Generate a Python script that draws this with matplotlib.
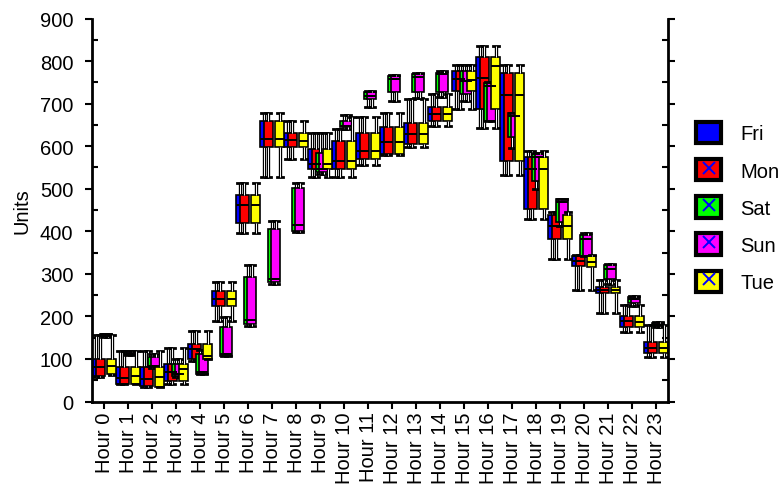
import matplotlib
matplotlib.use("Agg")
import matplotlib.pyplot as plt
from matplotlib.patches import Patch
from matplotlib.lines import Line2D
from matplotlib.ticker import MultipleLocator

plt.rcParams["font.family"] = ["Liberation Sans", "DejaVu Sans"]

hours = [f"Hour {h}" for h in range(24)]
days = ["Fri", "Mon", "Sat", "Sun", "Tue"]
colors = ["#0000ff", "#ff0000", "#00ff00", "#ff00ff", "#ffff00"]

# (low whisker, q1, median, q3, high whisker) per hour
fri = [
    (58, 60, 82, 101, 156), (40, 42, 55, 80, 119), (34, 37, 53, 80, 119),
    (42, 49, 69, 88, 126), (96, 100, 123, 135, 166), (190, 225, 242, 260, 280),
    (396, 419, 462, 486, 513), (528, 597, 617, 660, 677), (570, 597, 615, 632, 658),
    (528, 546, 558, 593, 631), (528, 546, 565, 612, 640), (556, 570, 589, 632, 669),
    (579, 582, 609, 644, 679), (597, 605, 628, 654, 711), (648, 660, 675, 693, 722),
    (687, 730, 759, 777, 791), (642, 687, 760, 810, 835), (533, 564, 720, 773, 791),
    (429, 452, 546, 575, 589), (335, 382, 413, 438, 446), (262, 318, 331, 342, 344),
    (208, 254, 262, 270, 285), (163, 174, 188, 200, 227), (105, 114, 126, 139, 180),
]
mon = [
    (58, 60, 82, 101, 156), (40, 42, 55, 80, 119), (34, 37, 53, 80, 119),
    (42, 49, 69, 88, 126), (96, 100, 123, 135, 166), (190, 225, 242, 260, 280),
    (396, 419, 462, 486, 513), (528, 597, 617, 660, 677), (570, 597, 615, 632, 658),
    (528, 546, 558, 593, 631), (528, 546, 565, 612, 640), (556, 570, 589, 632, 669),
    (579, 582, 609, 644, 679), (597, 605, 628, 654, 711), (648, 660, 675, 693, 722),
    (687, 730, 759, 777, 791), (642, 687, 760, 810, 835), (533, 564, 720, 773, 791),
    (429, 452, 546, 575, 589), (335, 382, 413, 438, 446), (262, 318, 331, 342, 344),
    (208, 254, 262, 270, 285), (163, 174, 188, 200, 227), (105, 114, 126, 139, 180),
]
sat = [
    (152, 153, 155, 158, 159), (109, 110, 112, 117, 118), (78, 80, 84, 104, 112),
    (58, 61, 65, 88, 100), (64, 65, 70, 112, 120), (106, 108, 112, 176, 198),
    (178, 182, 191, 293, 321), (277, 280, 288, 405, 425), (398, 400, 415, 501, 513),
    (535, 539, 546, 585, 631), (640, 644, 648, 660, 673), (693, 711, 718, 728, 730),
    (707, 727, 758, 765, 767), (713, 727, 762, 769, 772), (715, 727, 770, 773, 776),
    (707, 723, 754, 777, 791), (660, 660, 742, 748, 750), (595, 621, 672, 677, 679),
    (499, 519, 574, 582, 584), (413, 421, 468, 476, 476), (343, 343, 382, 392, 395),
    (276, 288, 311, 321, 322), (225, 231, 241, 246, 248), (176, 177, 180, 184, 186),
]
sun = [
    (152, 153, 155, 158, 159), (109, 110, 112, 117, 118), (78, 80, 84, 104, 112),
    (58, 61, 65, 88, 100), (64, 65, 70, 112, 120), (106, 108, 112, 176, 198),
    (178, 182, 191, 293, 321), (277, 280, 288, 405, 425), (398, 400, 415, 501, 513),
    (535, 539, 546, 585, 631), (640, 644, 648, 660, 673), (693, 711, 718, 728, 730),
    (707, 727, 758, 765, 767), (713, 727, 762, 769, 772), (715, 727, 770, 773, 776),
    (707, 723, 754, 777, 791), (660, 660, 742, 748, 750), (595, 621, 672, 677, 679),
    (499, 519, 574, 582, 584), (413, 421, 468, 476, 476), (343, 343, 382, 392, 395),
    (276, 288, 311, 321, 322), (225, 231, 241, 246, 248), (176, 177, 180, 184, 186),
]
tue = [
    (62, 64, 84, 101, 157), (41, 41, 60, 81, 118), (34, 34, 57, 81, 119),
    (41, 49, 76, 88, 126), (100, 100, 108, 135, 166), (190, 225, 242, 260, 280),
    (396, 419, 462, 486, 513), (528, 597, 617, 660, 677), (570, 597, 613, 632, 658),
    (528, 546, 558, 593, 631), (528, 546, 564, 612, 669), (556, 570, 589, 632, 669),
    (579, 582, 609, 644, 679), (597, 605, 628, 654, 711), (648, 660, 675, 693, 722),
    (687, 730, 756, 777, 791), (642, 687, 789, 809, 835), (533, 564, 720, 772, 791),
    (429, 452, 546, 575, 589), (335, 382, 413, 438, 446), (262, 317, 328, 341, 344),
    (208, 254, 262, 270, 285), (163, 174, 186, 200, 227), (105, 114, 126, 139, 180),
]
series = [fri, mon, sat, sun, tue]

offsets = [-0.33, -0.165, 0.0, 0.165, 0.33]
box_width = 0.375

fig = plt.figure(figsize=(7.83, 4.89), dpi=100)
ax = fig.add_axes([92 / 783, 1 - 402.5 / 489, 576 / 783, 383 / 489])

for data, color, off in zip(series, colors, offsets):
    stats = []
    for lo, q1, med, q3, hi in data:
        stats.append({"whislo": lo, "q1": q1, "med": med, "q3": q3, "whishi": hi})
    pos = [h + off for h in range(len(hours))]
    res = ax.bxp(
        stats,
        positions=pos,
        widths=box_width,
        capwidths=0.28,
        showfliers=False,
        patch_artist=True,
        boxprops=dict(facecolor=color, edgecolor="black", linewidth=1.2),
        whiskerprops=dict(color="black", linewidth=2.4, solid_capstyle="butt"),
        capprops=dict(color="black", linewidth=2.0),
        medianprops=dict(color="black", linewidth=1.4),
        manage_ticks=False,
    )
    # hollow look of the whisker stems
    for w in res["whiskers"]:
        xs, ys = w.get_data()
        ax.plot(xs, ys, color="white", linewidth=0.7, solid_capstyle="butt")

ax.set_xlim(-0.5, 23.5)
ax.set_ylim(0, 900)
ax.set_xticks(range(len(hours)))
ax.set_xticklabels(hours, rotation=90, fontsize=14.5)
ax.yaxis.set_major_locator(MultipleLocator(100))
ax.yaxis.set_minor_locator(MultipleLocator(50))
ax.tick_params(axis="y", which="major", direction="out", length=5, width=1.5,
               labelsize=14.5, pad=8.5, right=True)
ax.tick_params(axis="y", which="minor", direction="in", length=4, width=1.5, right=True)
ax.tick_params(axis="x", which="major", direction="out", length=5, width=1.5, pad=2)
ax.spines["top"].set_visible(False)
for s in ["left", "right", "bottom"]:
    ax.spines[s].set_linewidth(2.0)
ax.set_ylabel("Units", fontsize=14.5, labelpad=6)

handles = []
for i, color in enumerate(colors):
    patch = Patch(facecolor=color, edgecolor="black", linewidth=3)
    if i == 0:
        handles.append(patch)
    else:
        mark = Line2D([], [], marker="x", color="#0000ff", markersize=9,
                      markeredgewidth=1.4, linestyle="none")
        handles.append((patch, mark))
fig.legend(handles, days, loc="upper left", bbox_to_anchor=(696 / 783, 1 - 123 / 489),
           frameon=False, fontsize=14.5, handlelength=1.25, handleheight=1.25,
           labelspacing=0.78, handletextpad=0.95, borderpad=0, borderaxespad=0)

fig.savefig("out.png", dpi=100)
